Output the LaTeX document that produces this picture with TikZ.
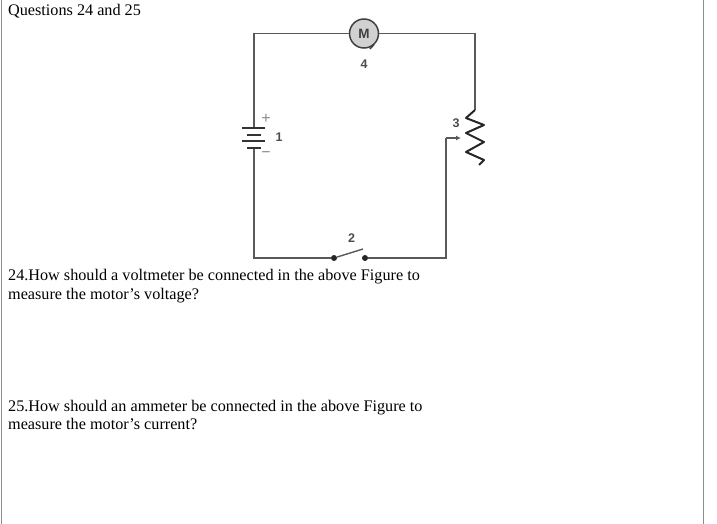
\documentclass[tikz,border=0pt]{standalone}
\usepackage{fontspec}
\setmainfont{Liberation Serif}
\setsansfont{Liberation Sans}
\usetikzlibrary{arrows.meta}
\tikzset{
  wire/.style={draw=black!65, line width=1.4pt},
  plate/.style={draw=black!80, line width=1.8pt},
  terminal/.style={circle, fill=black!85, inner sep=0pt, minimum size=6pt},
  motorbox/.style={circle, draw=black!75, line width=1.5pt, fill=black!18, inner sep=0pt, minimum size=29pt, font=\sffamily\bfseries\fontsize{13.5}{13.5}\selectfont, text=black!75},
  partlabel/.style={font=\sffamily\bfseries\fontsize{12.5}{12.5}\selectfont, text=black!70, inner sep=0pt},
  signlabel/.style={font=\sffamily\fontsize{16}{16}\selectfont, text=black!45, inner sep=0pt},
  textline/.style={anchor=base west, inner sep=0pt, font=\fontsize{16.2}{18}\selectfont, text=black}
}
\begin{document}
\begin{tikzpicture}[x=1pt,y=-1pt]
        \useasboundingbox (0,0) rectangle (717,524);

        % page edges
        \coordinate (pagelefttop)  at (1.5,0);
        \coordinate (pageleftbot)  at (1.5,524);
        \coordinate (pagerighttop) at (703,0);
        \coordinate (pagerightbot) at (703,524);
        \draw[black!45, line width=1pt] (pagelefttop) -- (pageleftbot);
        \draw[black!45, line width=1pt] (pagerighttop) -- (pagerightbot);

        \node[motorbox] (motor) at (364,33.5) {M};

        \coordinate (topleft)  at (254,33.5);
        \coordinate (topright) at (475,33.5);
        \coordinate (botleft)  at (254,258);
        \coordinate (botright) at (446,258);
        \coordinate (battop)   at (254,128);
        \coordinate (batbot)   at (254,148);
        \coordinate (restop)   at (475,110);
        \coordinate (wipercorner) at (446,138);
        \coordinate (wipertip) at (461,138);
        \coordinate (motortaila) at (370,49);
        \coordinate (motortailb) at (374,44.5);

        \node[terminal] (swa) at (334,258) {};
        \node[terminal] (swb) at (365,258) {};
        \coordinate (swtip) at (363,249);

        % wires
        \draw[wire] (motor) -- (topleft) -- (battop);
        \draw[wire] (motor) -- (topright) -- (restop);
        \draw[wire] (batbot) -- (botleft) -- (swa);
        \draw[wire] (swb) -- (botright) -- (wipercorner);
        \draw[wire, -{Latex[length=5pt,width=5pt]}] (wipercorner) -- (wipertip);
        \draw[wire] (swa) -- (swtip);
        \draw[black!75, line width=1.5pt] (motortaila) -- (motortailb);

        % battery plates
        \draw[plate] (242,128) -- (265,128);
        \draw[plate] (247,135) -- (261,135);
        \draw[plate] (242,141) -- (265,141);
        \draw[plate] (247,148) -- (261,148);

        % resistor
        \draw[black!85, line width=2pt, line join=round]
          (restop) -- (466,118) -- (484,125) -- (466,133) -- (484,142)
          -- (466,152) -- (484,160) -- (479,165);

        \node[signlabel] (plus)  at (266,118.5) {+};
        \node[signlabel] (minus) at (266,154.5) {−};
        \node[partlabel] (one)   at (279,136.7) {1};
        \node[partlabel] (two)   at (351.5,237.7) {2};
        \node[partlabel] (three) at (456,123.5) {3};
        \node[partlabel] (four)  at (364,64.7) {4};

        % question text
        \node[textline] (title) at (8,16) {Questions 24 and 25};
        \node[textline] (qa1) at (8,280.7) {24.How should a voltmeter be connected in the above Figure to};
        \node[textline] (qa2) at (8,299.5) {measure the motor’s voltage?};
        \node[textline] (qb1) at (8,411) {25.How should an ammeter be connected in the above Figure to};
        \node[textline] (qb2) at (8,429.5) {measure the motor’s current?};

      \end{tikzpicture}
\end{document}
